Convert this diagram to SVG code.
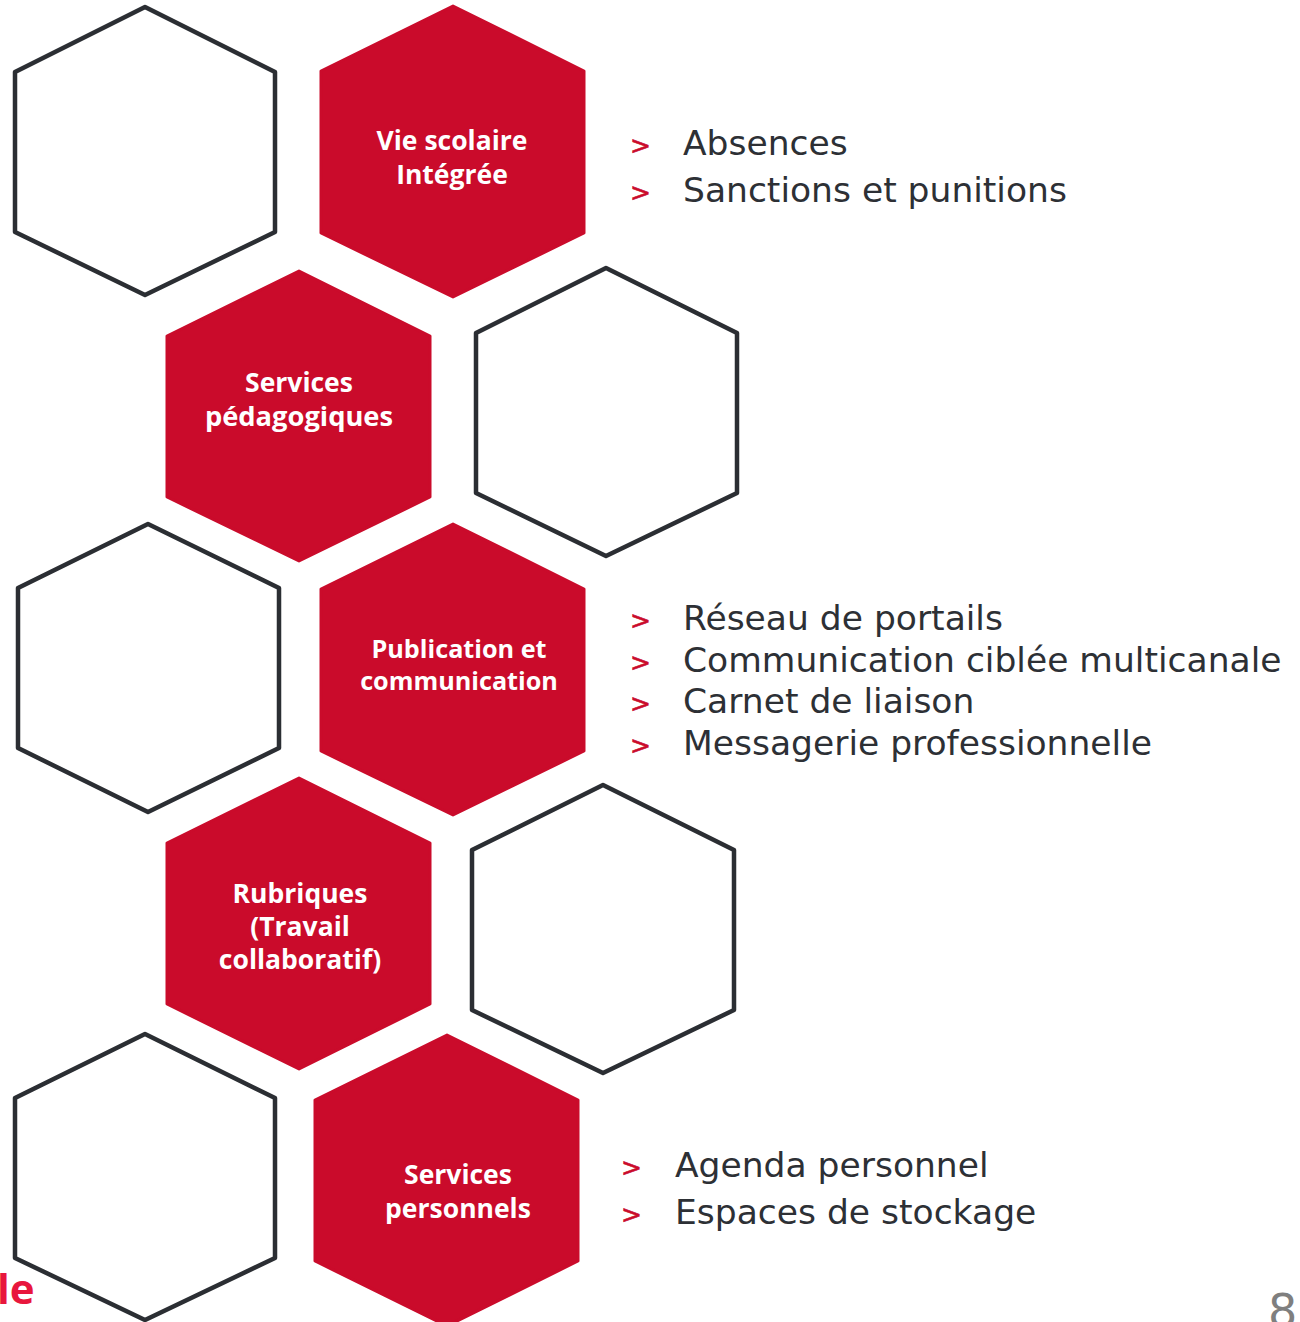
<svg xmlns="http://www.w3.org/2000/svg" width="1300" height="1322" viewBox="0 0 1300 1322">
<style>
.out{fill:#fff;stroke:#2b2e33;stroke-width:4.5;stroke-linejoin:round}
.red{fill:#ca0b2b;stroke:#ca0b2b;stroke-width:3;stroke-linejoin:round}
.lbl{font-family:"Open Sans","Liberation Sans",sans-serif;font-weight:bold;font-size:26.5px;fill:#fff;text-anchor:middle}
.item{font-family:"DejaVu Sans",sans-serif;font-size:34.5px;fill:#2d3035}
.gt{font-family:"DejaVu Sans",sans-serif;font-size:25px;fill:#ca0b2b;stroke:#ca0b2b;stroke-width:0.6}
</style>
<rect width="1300" height="1322" fill="#fff"/>
<g id="outline-1"><polygon class="out" points="145,7 275,72 275,232 145,295 15,232 15,72"/></g>
<g id="vie-scolaire"><polygon class="red" points="453,6 584,71 584,233 453,297 321,233 321,71"/>
<text class="lbl" x="452" y="150">Vie scolaire</text><text class="lbl" x="452" y="184">Intégrée</text></g>
<g id="services-pedagogiques"><polygon class="red" points="299,271 430,336 430,497 299,561 167,497 167,336"/>
<text class="lbl" x="299" y="392">Services</text><text class="lbl" x="299" y="426" style="font-size:27.3px">pédagogiques</text></g>
<g id="outline-2"><polygon class="out" points="606,268 737,333 737,493 606,556 476,493 476,333"/></g>
<g id="outline-3"><polygon class="out" points="148,524 279,588 279,748 148,812 18,748 18,588"/></g>
<g id="publication"><polygon class="red" points="453,524 584,589 584,751 453,815 321,751 321,589"/>
<text class="lbl" x="459" y="658" style="font-size:25.2px">Publication et</text><text class="lbl" x="459" y="690" style="font-size:25.2px">communication</text></g>
<g id="rubriques"><polygon class="red" points="299,778 430,843 430,1004 299,1069 167,1004 167,843"/>
<text class="lbl" x="300" y="903">Rubriques</text><text class="lbl" x="300" y="936">(Travail</text><text class="lbl" x="300" y="969">collaboratif)</text></g>
<g id="outline-4"><polygon class="out" points="603,785 734,850 734,1010 603,1073 472,1010 472,850"/></g>
<g id="outline-5"><polygon class="out" points="145,1034 275,1098 275,1258 145,1320 15,1258 15,1098"/></g>
<g id="services-personnels"><polygon class="red" points="447,1035 578,1100 578,1261 447,1326 315,1261 315,1100"/>
<text class="lbl" x="458" y="1184">Services</text><text class="lbl" x="458" y="1218">personnels</text></g>
<g id="list-1">
<text class="gt" x="630" y="154">&gt;</text><text class="item" x="683" y="155">Absences</text>
<text class="gt" x="630" y="201">&gt;</text><text class="item" x="683" y="202">Sanctions et punitions</text>
</g>
<g id="list-2">
<text class="gt" x="630" y="629">&gt;</text><text class="item" x="683" y="630">Réseau de portails</text>
<text class="gt" x="630" y="671">&gt;</text><text class="item" x="683" y="672">Communication ciblée multicanale</text>
<text class="gt" x="630" y="712">&gt;</text><text class="item" x="683" y="713">Carnet de liaison</text>
<text class="gt" x="630" y="754">&gt;</text><text class="item" x="683" y="755">Messagerie professionnelle</text>
</g>
<g id="list-3">
<text class="gt" x="621" y="1176">&gt;</text><text class="item" x="675" y="1177">Agenda personnel</text>
<text class="gt" x="621" y="1223">&gt;</text><text class="item" x="675" y="1224">Espaces de stockage</text>
</g>
<text x="-3" y="1304" style="font-family:'Open Sans','Liberation Sans',sans-serif;font-weight:bold;font-size:42px;fill:#e8173d">le</text>
<text x="1268" y="1327" style="font-family:'DejaVu Sans',sans-serif;font-size:46px;fill:#7f7f7f">8</text>
</svg>
